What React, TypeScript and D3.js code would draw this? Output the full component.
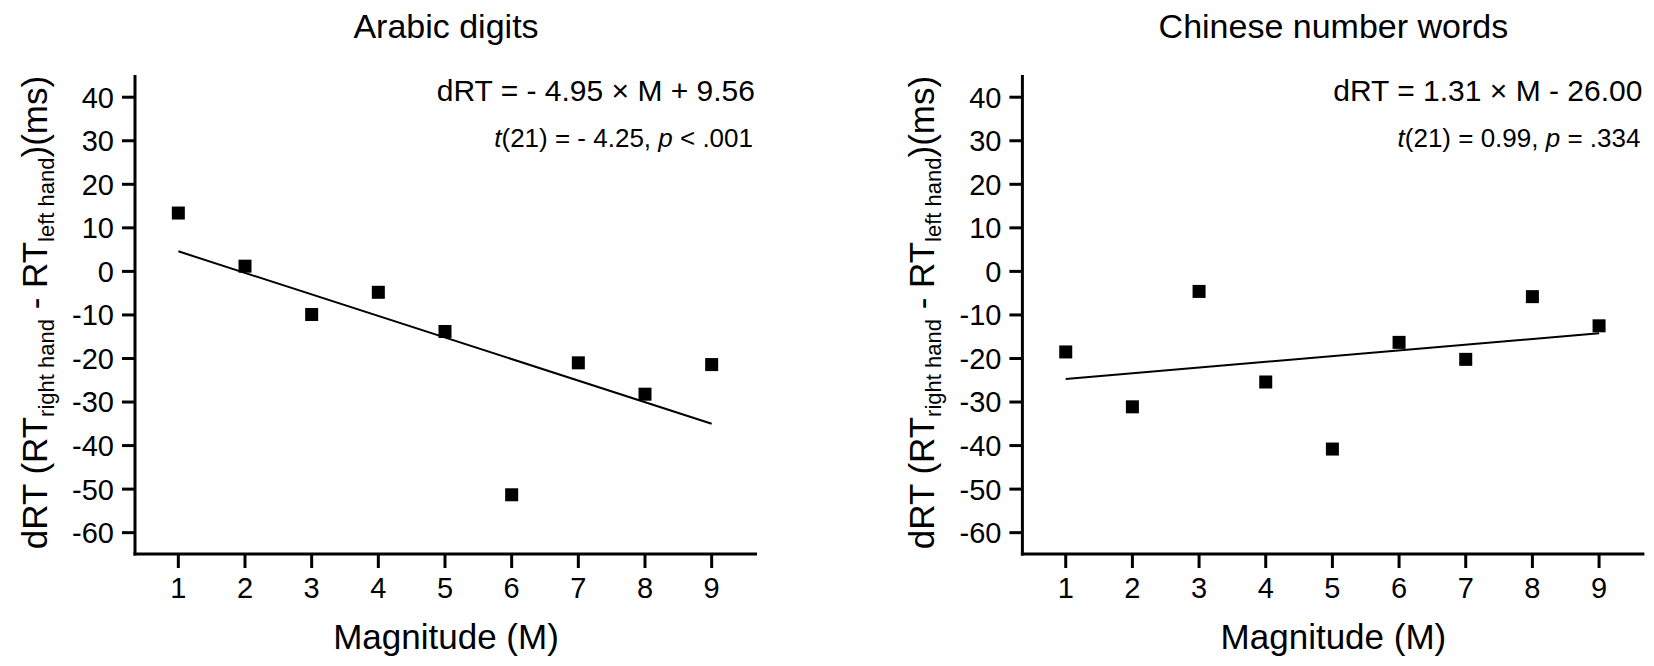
import React from "react";
import * as d3 from "d3";

const magnitudes = [1, 2, 3, 4, 5, 6, 7, 8, 9];
const arabicValues = [13.4, 1.2, -9.9, -4.8, -13.8, -51.3, -21.0, -28.2, -21.4];
const chineseValues = [-18.5, -31.1, -4.6, -25.4, -40.8, -16.3, -20.2, -5.8, -12.5];
const yTicks = [40, 30, 20, 10, 0, -10, -20, -30, -40, -50, -60];
const xTicks = [1, 2, 3, 4, 5, 6, 7, 8, 9];
const panelTitles = ["Arabic digits", "Chinese number words"];
const fitSlopes = [-4.95, 1.31];
const fitIntercepts = [9.56, -26.0];
const equationLabels = ["dRT = - 4.95 × M + 9.56", "dRT = 1.31 × M - 26.00"];
const statLabels = [
  { df: "(21) = - 4.25, ", rest: " < .001" },
  { df: "(21) = 0.99, ", rest: " = .334" },
];

const FONT = "Arial, 'Liberation Sans', Helvetica, sans-serif";

function Panel({ offsetX, values, idx }: { offsetX: number; values: number[]; idx: number }) {
  const x = d3.scaleLinear().domain([0.35, 9.68]).range([135 + offsetX, 757 + offsetX]);
  const y = d3.scaleLinear().domain([-64.9, 45.1]).range([554, 75]);
  const [x0, x1] = x.range();
  const [yb, yt] = y.range();
  const line = d3
    .line<number>()
    .x((m) => x(m))
    .y((m) => y(fitSlopes[idx] * m + fitIntercepts[idx]));
  const fmt = (v: number) => String(v);
  const cx = (x0 + x1) / 2;
  const cy = (yb + yt) / 2;
  const sz = 13;
  return (
    <g fontFamily={FONT} fill="#000">
      {/* axes */}
      <line x1={x0} x2={x0} y1={yt} y2={yb + 1.5} stroke="#000" strokeWidth={3} />
      <line x1={x0 - 1.5} x2={x1} y1={yb} y2={yb} stroke="#000" strokeWidth={3} />
      {yTicks.map((t) => (
        <g key={"y" + t}>
          <line x1={x0 - 13} x2={x0} y1={y(t)} y2={y(t)} stroke="#000" strokeWidth={3} />
          <text x={x0 - 21} y={y(t)} dy="0.36em" textAnchor="end" fontSize={29}>
            {fmt(t)}
          </text>
        </g>
      ))}
      {xTicks.map((t) => (
        <g key={"x" + t}>
          <line x1={x(t)} x2={x(t)} y1={yb} y2={yb + 14} stroke="#000" strokeWidth={3} />
          <text x={x(t)} y={598} textAnchor="middle" fontSize={29}>
            {t}
          </text>
        </g>
      ))}
      {/* fit line */}
      <path d={line([1, 9]) || ""} fill="none" stroke="#000" strokeWidth={2} />
      {/* points */}
      {magnitudes.map((m, i) => (
        <rect key={"p" + m} x={x(m) - sz / 2} y={y(values[i]) - sz / 2} width={sz} height={sz} fill="#000" />
      ))}
      {/* titles */}
      <text x={cx} y={38} textAnchor="middle" fontSize={34}>
        {panelTitles[idx]}
      </text>
      <text x={x1 - 2} y={101} textAnchor="end" fontSize={30}>
        {equationLabels[idx]}
      </text>
      <text x={x1 - 4} y={147} textAnchor="end" fontSize={26}>
        <tspan fontStyle="italic">t</tspan>
        <tspan>{statLabels[idx].df}</tspan>
        <tspan fontStyle="italic">p</tspan>
        <tspan>{statLabels[idx].rest}</tspan>
      </text>
      <text x={cx} y={649} textAnchor="middle" fontSize={35}>
        Magnitude (M)
      </text>
      <text
        transform={`translate(${x0 - 88},${cy - 2}) rotate(-90)`}
        textAnchor="middle"
        fontSize={35}
      >
        <tspan>dRT (RT</tspan>
        <tspan fontSize={22} dy={7}>right hand</tspan>
        <tspan dy={-7}> - RT</tspan>
        <tspan fontSize={22} dy={7}>left hand</tspan>
        <tspan dy={-7}>)(ms)</tspan>
      </text>
    </g>
  );
}

export default function App() {
  return (
    <svg
      width={1654}
      height={666}
      style={{ position: "fixed", left: 0, top: 0, background: "#fff" }}
    >
      <rect width={1654} height={666} fill="#fff" />
      <Panel offsetX={0} values={arabicValues} idx={0} />
      <Panel offsetX={887.4} values={chineseValues} idx={1} />
    </svg>
  );
}
